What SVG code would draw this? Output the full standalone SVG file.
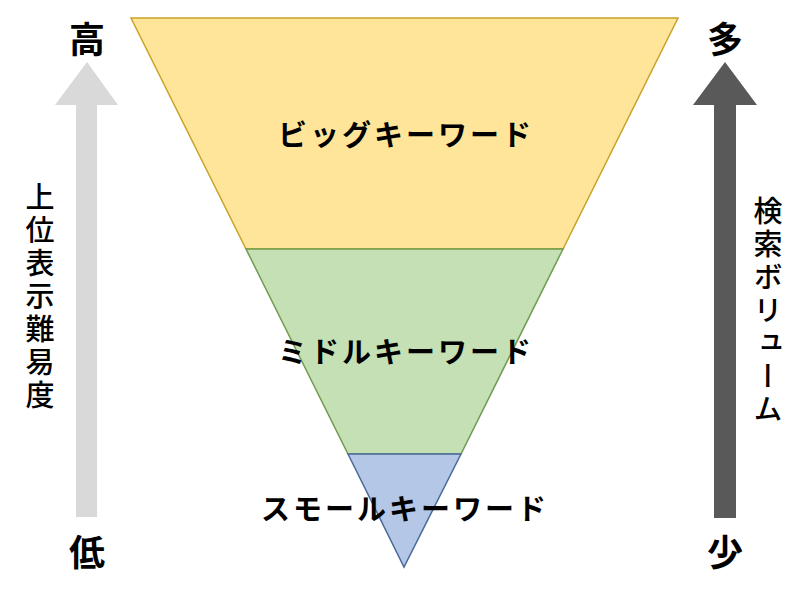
<svg xmlns="http://www.w3.org/2000/svg" width="800" height="600" viewBox="0 0 800 600">
<style>
.lbl{font-family:"Noto Sans CJK JP","Noto Sans",sans-serif;font-weight:bold;font-size:29px;letter-spacing:3px;fill:#000;text-anchor:middle;dominant-baseline:central}
.big{font-family:"Noto Sans CJK JP","Noto Sans",sans-serif;font-weight:bold;font-size:36px;fill:#000;text-anchor:middle;dominant-baseline:central}
.vt{font-family:"Noto Sans CJK JP","Noto Sans",sans-serif;font-weight:500;font-size:29px;fill:#000;writing-mode:vertical-rl;letter-spacing:4px}
</style>
<rect width="800" height="600" fill="#fff"/>
<g id="big-keyword">
<polygon points="131,18 678,18 563,249 246,249" fill="#ffe599" stroke="#c9a227" stroke-width="1.5"/>
<text class="lbl" x="406" y="133">ビッグキーワード</text>
</g>
<g id="middle-keyword">
<polygon points="246,249 563,249 461,454 348,454" fill="#c5e0b4" stroke="#6f9a4f" stroke-width="1.5"/>
<text class="lbl" x="406" y="350">ミドルキーワード</text>
</g>
<g id="small-keyword">
<polygon points="348,454 461,454 404,567" fill="#b4c7e7" stroke="#4a6a9a" stroke-width="1.5"/>
<text class="lbl" x="405" y="507">スモールキーワード</text>
</g>
<g id="left-axis">
<polygon points="87,62 118,105 97,105 97,517 76,517 76,105 55,105" fill="#d9d9d9"/>
<text class="big" x="87" y="37">高</text>
<text class="big" x="87" y="550">低</text>
<text class="vt" x="40" y="182">上位表示難易度</text>
</g>
<g id="right-axis">
<polygon points="725,62 757,105 736,105 736,518 714,518 714,105 693,105" fill="#595959"/>
<text class="big" x="725" y="37">多</text>
<text class="big" x="725" y="550">少</text>
<text class="vt" x="768" y="196">検索ボリューム</text>
</g>
<g id="connectors"></g>
</svg>
